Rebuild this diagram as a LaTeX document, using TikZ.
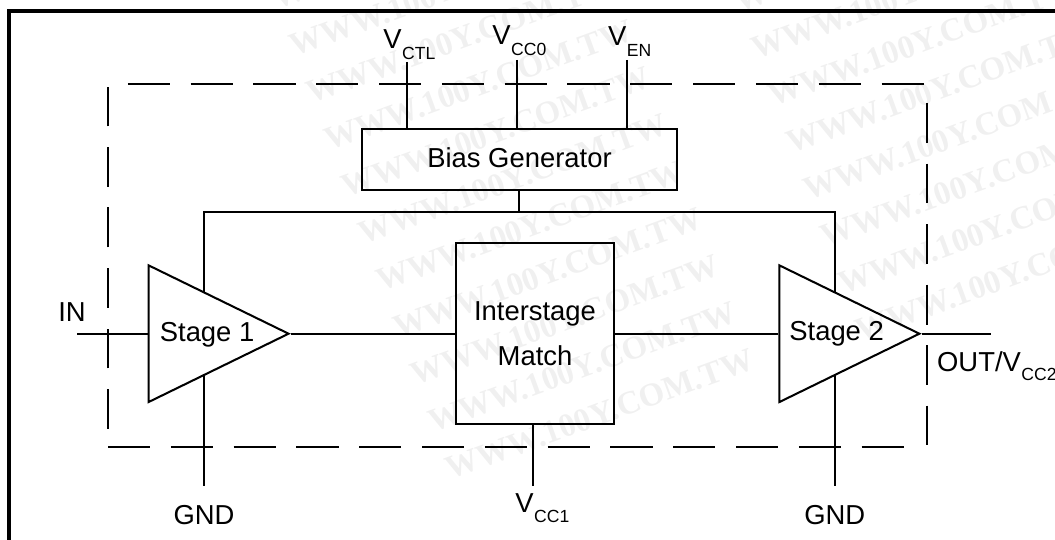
\documentclass[tikz,border=0pt]{standalone}
\usepackage{fontspec}
\setmainfont{Liberation Sans}
\newfontfamily\markfont{Liberation Serif}
\usetikzlibrary{shapes.geometric}
\newcommand{\mainsize}{\fontsize{15.6}{26}\selectfont}
\newcommand{\vsub}[2]{V\kern0.3pt\raisebox{-#2pt}{\fontsize{10}{12}\selectfont #1}}
\tikzset{
wire/.style={black,line width=1.15pt},
framing/.style={black,line width=2.1pt},
dashh/.style={black,line width=1.15pt,dash pattern=on 24pt off 11.75pt},
dashv/.style={black,line width=1.15pt,dash pattern=on 22.75pt off 11.7pt},
blockbox/.style={draw,wire,rectangle,inner sep=0pt,align=center,font=\mainsize},
ampbox/.style={draw,wire,isosceles triangle,isosceles triangle stretches,inner sep=0pt,
minimum height=2.80cm,minimum width=2.734cm,anchor=lower side},
tag/.style={inner sep=0pt,anchor=base west,font=\mainsize},
tagmid/.style={inner sep=0pt,anchor=base,font=\mainsize},
wmark/.style={inner sep=0pt,anchor=base west,rotate=20,text=black!6,font=\markfont\bfseries\fontsize{18.7}{19}\selectfont}
}
\begin{document}
\begin{tikzpicture}[x=0.02cm,y=0.02cm]
\useasboundingbox (0,0) rectangle (1055,-540);
\clip (0,0) rectangle (1055,-540);
\foreach \i in {0,...,10}
\node [wmark] (markl\i) at (277+17.3*\i,-10-47*\i) {WWW.100Y.COM.TW};
\foreach \i in {0,...,7}
\node [wmark] (markr\i) at (739+17.3*\i,-13-47*\i) {WWW.100Y.COM.TW};
\draw [framing] (9.3,-540) -- (9.3,-11) -- (1055,-11);
\draw [dashh] (127.8,-83.7) -- (926,-83.7);
\draw [dashh] (108,-447.3) -- (907,-447.3);
\draw [dashv] (108,-429) -- (108,-87);
\draw [dashv] (927,-103) -- (927,-445);
\node [blockbox,minimum width=6.31cm,minimum height=1.21cm] (biasgen) at (519.5,-159.7) {};
\node [tagmid] (biaslabel) at (519.5,-167.7) {Bias Generator};
\node [blockbox,minimum width=3.146cm,minimum height=3.626cm] (match) at (535,-333.7) {Interstage\\Match};
\node [ampbox] (stage1) at (147.6,-333.7) {};
\node [ampbox] (stage2) at (778.4,-333.7) {};
\node [tag] (stage1label) at (159.5,-341.7) {Stage 1};
\node [tag] (stage2label) at (789,-340.7) {Stage 2};
\node [tag] (vctl) at (383,-49) {\vsub{CTL}{5.8}};
\node [tag] (vcc0) at (492,-45) {\vsub{CC0}{5.8}};
\node [tag] (ven) at (607.7,-46) {\vsub{EN}{5.8}};
\node [tag] (vcc1) at (515,-512) {\vsub{CC1}{5.8}};
\node [tag] (in) at (58,-321.7) {IN};
\node [tag] (out) at (936.8,-371.7) {OUT/\vsub{CC2}{5}};
\node [tagmid] (gnd1) at (204,-524) {GND};
\node [tagmid] (gnd2) at (834.7,-524) {GND};
\coordinate (vctlpin) at (406.7,-62);
\coordinate (vcc0pin) at (516.6,-60);
\coordinate (venpin) at (627,-60);
\coordinate (inpin) at (77,-333.7);
\coordinate (outpin) at (990.7,-333.7);
\coordinate (vcc1pin) at (532.7,-486);
\coordinate (gnd1pin) at (204,-486);
\coordinate (gnd2pin) at (834.7,-486);
\coordinate (rail) at (519,-212);
\coordinate (s1up) at (204,-291.9);
\coordinate (s1down) at (204,-375.5);
\coordinate (s2up) at (834.7,-291.9);
\coordinate (s2down) at (834.7,-375.5);
\draw [wire] (vctlpin) -- (vctlpin |- biasgen.north);
\draw [wire] (vcc0pin) -- (vcc0pin |- biasgen.north);
\draw [wire] (venpin) -- (venpin |- biasgen.north);
\draw [wire] (rail |- biasgen.south) -- (rail);
\draw [wire] (s1up) -- (s1up |- rail) -- (s2up |- rail) -- (s2up);
\draw [wire] (s1down) -- (gnd1pin);
\draw [wire] (s2down) -- (gnd2pin);
\draw [wire] (vcc1pin |- match.south) -- (vcc1pin);
\draw [wire] (inpin) -- (stage1.lower side);
\draw [wire] (stage1.apex) -- (match.west);
\draw [wire] (match.east) -- (stage2.lower side);
\draw [wire] (stage2.apex) -- (outpin);
\end{tikzpicture}
\end{document}
